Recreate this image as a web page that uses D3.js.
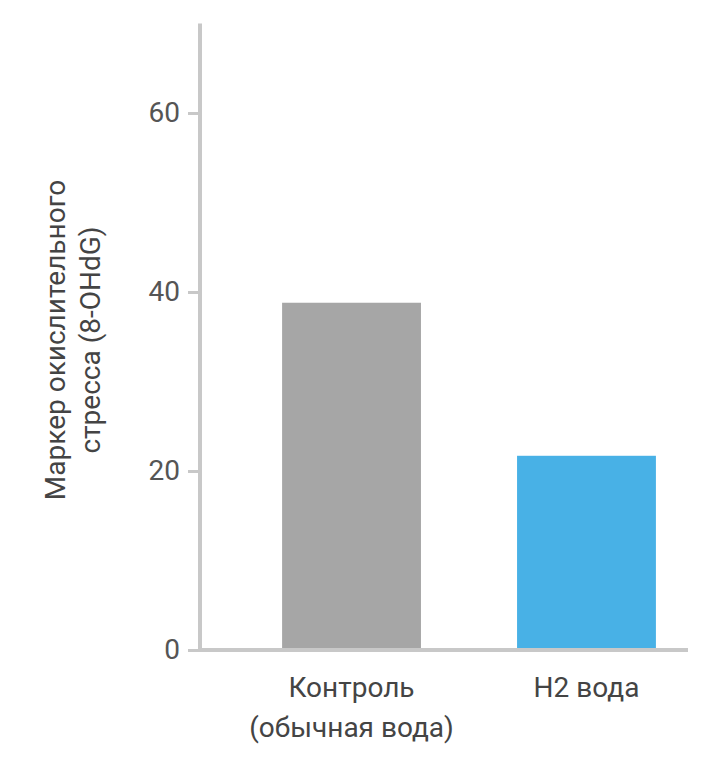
<!DOCTYPE html>
<html><head><meta charset="utf-8">
<script src="https://cdn.jsdelivr.net/npm/d3@7"></script>
<style>body{margin:0;background:#fff}</style></head>
<body><svg id="c" width="710" height="774"></svg>
<script>
const categories = [["Контроль","(обычная вода)"],["H2 вода"]];
const values = [38.8, 21.7];
const colors = ["#a6a6a6", "#48b1e6"];
const yTicks = [0, 20, 40, 60];
const yTitle = ["Маркер окислительного", "стресса (8-OHdG)"];

const svg = d3.select("#c");
const font = "Roboto, 'Noto Sans', sans-serif";
const y = d3.scaleLinear().domain([0, 70]).range([650, 23.5]);
const x = d3.scaleBand().domain(d3.range(values.length)).range([200, 688])
  .paddingInner(0.409).paddingOuter(0.243).align(0.719);

svg.selectAll("rect.bar").data(values).join("rect")
  .attr("x", (d,i)=>x(i)).attr("width", x.bandwidth())
  .attr("y", d=>y(d)).attr("height", d=>y(0)-y(d))
  .attr("fill", (d,i)=>colors[i]);

const ya = svg.append("g").attr("transform","translate(200,0)")
  .call(d3.axisLeft(y).tickValues(yTicks).tickSize(12).tickPadding(8).tickFormat(d3.format("d")));
ya.select(".domain").remove();
ya.selectAll(".tick line").attr("stroke","#c8c8c8").attr("stroke-width",3);
ya.selectAll(".tick text").attr("fill","#555").style("font-family",font).style("font-size","28px");

svg.append("line").attr("x1",200).attr("x2",200).attr("y1",23.5).attr("y2",652)
  .attr("stroke","#c8c8c8").attr("stroke-width",4);
svg.append("line").attr("x1",198).attr("x2",688).attr("y1",650).attr("y2",650)
  .attr("stroke","#c8c8c8").attr("stroke-width",4);

categories.forEach((lines,i)=>{
  const t = svg.append("text").attr("text-anchor","middle").attr("fill","#444")
    .style("font-family",font).style("font-size","28px");
  lines.forEach((l,j)=>t.append("tspan").attr("x", x(i)+x.bandwidth()/2).attr("y", 697+j*40).text(l));
});

const tt = svg.append("text").attr("transform","translate(0,340) rotate(-90)")
  .attr("text-anchor","middle").attr("fill","#444").style("font-family",font).style("font-size","28px");
yTitle.forEach((l,j)=>tt.append("tspan").attr("x",0).attr("y",65+j*35).text(l));
</script></body></html>
